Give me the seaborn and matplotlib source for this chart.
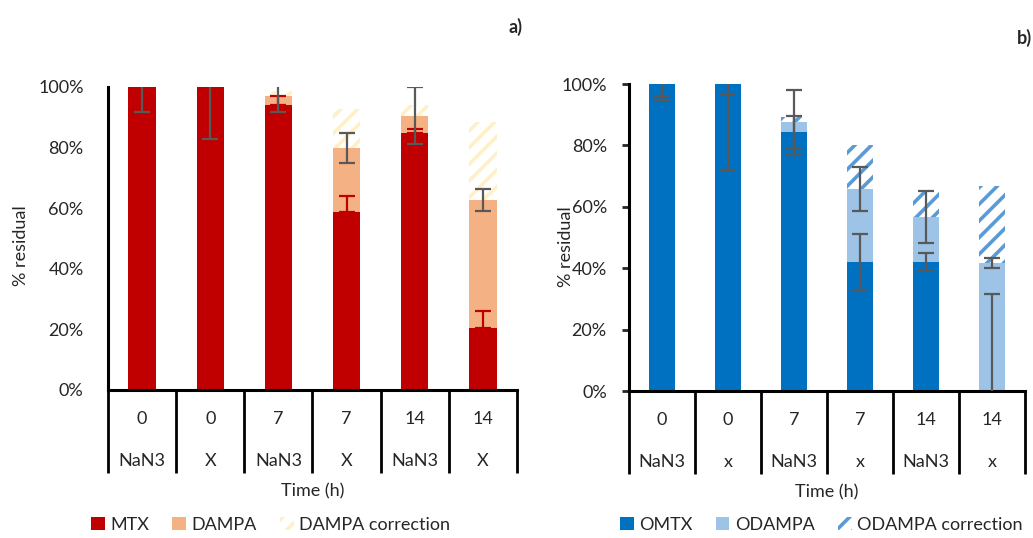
import matplotlib
matplotlib.use("Agg")
import matplotlib.pyplot as plt
from matplotlib.patches import Patch
from matplotlib.ticker import PercentFormatter
import numpy as np
import pandas as pd
import seaborn as sns

# categories (time / treatment)
times = ["0", "0", "7", "7", "14", "14"]
treat_a = ["NaN3", "X", "NaN3", "X", "NaN3", "X"]
treat_b = ["NaN3", "x", "NaN3", "x", "NaN3", "x"]

# panel a) - stacked segments in %
mtx = [100, 100, 93.9, 58.7, 84.9, 20.4]
dampa = [0, 0, 3.1, 21.2, 5.6, 42.4]
dampa_corr = [0, 0, 1.8, 12.9, 3.5, 25.6]
mtx_err_up = [0, 0, 3.1, 5.2, 1.3, 5.8]
dampa_err = [8.2, 17.0, 5.4, 4.9, 9.4, 3.6]

# panel b)
omtx = [100, 100, 84.5, 42.0, 42.0, 0]
odampa = [0, 0, 3.0, 23.8, 14.7, 41.8]
odampa_corr = [0, 0, 1.9, 14.3, 8.6, 25.1]
omtx_err = [3.8, 28.0, 5.2, 9.3, 3.0, 31.5]
odampa_err = [5.2, 3.2, 10.5, 7.2, 8.5, 1.6]

sns.set_style("white")
plt.rcParams["font.family"] = ["Lato", "DejaVu Sans"]
plt.rcParams["hatch.linewidth"] = 2.6
FS = 13
GREY = "#595959"

fig = plt.figure(figsize=(10.33, 5.38), dpi=100)


def panel(ax, base, mid, corr, treat, c_base, c_mid, c_corr, hatch, names, red_err,
          mid_err, base_err, yticks_out, ylab_xy, leg_x):
    keys = [f"{t}_{i}" for i, t in enumerate(times)]
    b = np.array(base) / 100
    m = b + np.array(mid) / 100
    c = m + np.array(corr) / 100
    df = pd.DataFrame({"k": keys, "base": b, "mid": m, "corr": c})
    sns.barplot(data=df, x="k", y="corr", order=keys, color="white", edgecolor=c_corr,
                hatch=hatch, linewidth=0, width=0.4, saturation=1, ax=ax)
    sns.barplot(data=df, x="k", y="mid", order=keys, color=c_mid, linewidth=0,
                width=0.4, saturation=1, ax=ax)
    sns.barplot(data=df, x="k", y="base", order=keys, color=c_base, linewidth=0,
                width=0.4, saturation=1, ax=ax)
    xs = np.arange(len(keys))
    if red_err is not None:
        up = np.array(red_err) / 100
        ax.errorbar(xs, b, yerr=[np.zeros_like(up), up], fmt="none", ecolor=c_base,
                    elinewidth=1.6, capsize=6, capthick=1.6, zorder=4)
    if base_err is not None:
        ax.errorbar(xs, b, yerr=np.array(base_err) / 100, fmt="none", ecolor=GREY,
                    elinewidth=1.6, capsize=6, capthick=1.6, zorder=5)
    ax.errorbar(xs, m, yerr=np.array(mid_err) / 100, fmt="none", ecolor=GREY,
                elinewidth=1.6, capsize=6, capthick=1.6, zorder=5)

    ax.set_xlim(-0.5, 5.5)
    ax.set_ylim(0, 1)
    ax.set_yticks(np.arange(0, 1.01, 0.2))
    ax.yaxis.set_major_formatter(PercentFormatter(1.0, decimals=0))
    for s in ["top", "right"]:
        ax.spines[s].set_visible(False)
    for s in ["left", "bottom"]:
        ax.spines[s].set_linewidth(2.2)
        ax.spines[s].set_color("black")
    if yticks_out:
        ax.tick_params(axis="y", left=True, length=5, width=2, direction="out", pad=11, labelsize=FS)
    else:
        ax.tick_params(axis="y", left=False, pad=14, labelsize=FS)
    ax.set_xticks(xs)
    ax.set_xticklabels([])
    ax.tick_params(axis="x", which="major", length=0)
    ax.set_xticks(np.arange(-0.5, 6, 1), minor=True)
    ax.tick_params(axis="x", which="minor", bottom=True, length=60, width=2, color="black", direction="out")
    ax.set_xlabel("")
    ax.set_ylabel("% residual", fontsize=FS)
    ax.yaxis.set_label_coords(*ylab_xy)
    for i in range(len(keys)):
        ax.annotate(times[i], (i, 0), xycoords=("data", "axes fraction"), xytext=(0, -21),
                    textcoords="offset points", ha="center", va="center", fontsize=FS)
        ax.annotate(treat[i], (i, 0), xycoords=("data", "axes fraction"), xytext=(0, -51),
                    textcoords="offset points", ha="center", va="center", fontsize=FS)
    ax.annotate("Time (h)", (2.5, 0), xycoords=("data", "axes fraction"), xytext=(0, -73),
                textcoords="offset points", ha="center", va="center", fontsize=FS)
    handles = [Patch(facecolor=c_base, edgecolor="none"),
               Patch(facecolor=c_mid, edgecolor="none"),
               Patch(facecolor="white", edgecolor=c_corr, hatch=hatch, linewidth=0)]
    fig.legend(handles, names, loc="center", bbox_to_anchor=(leg_x, 0.024), ncol=3,
               frameon=False, fontsize=FS, handlelength=0.75, handleheight=0.75,
               handletextpad=0.3, columnspacing=1.3, borderpad=0.1)


ax1 = fig.add_axes([0.1045, 0.2751, 0.396, 0.5632])
panel(ax1, mtx, dampa, dampa_corr, treat_a, "#C00000", "#F4B183", "#FFF0C8", "//",
      ["MTX", "DAMPA", "DAMPA correction"], mtx_err_up, dampa_err, None, False,
      (-0.193, 0.478), 0.262)

ax2 = fig.add_axes([0.6089, 0.2732, 0.3833, 0.5706])
panel(ax2, omtx, odampa, odampa_corr, treat_b, "#0070C0", "#9DC3E6", "#5B9BD5", "//",
      ["OMTX", "ODAMPA", "ODAMPA correction"], None, odampa_err, omtx_err, True,
      (-0.139, 0.469), 0.795)

fig.text(0.492, 0.95, "a)", fontsize=FS, fontweight="bold", ha="left", va="center")
fig.text(0.984, 0.93, "b)", fontsize=FS, fontweight="bold", ha="left", va="center")

fig.savefig("out.png", dpi=100)
